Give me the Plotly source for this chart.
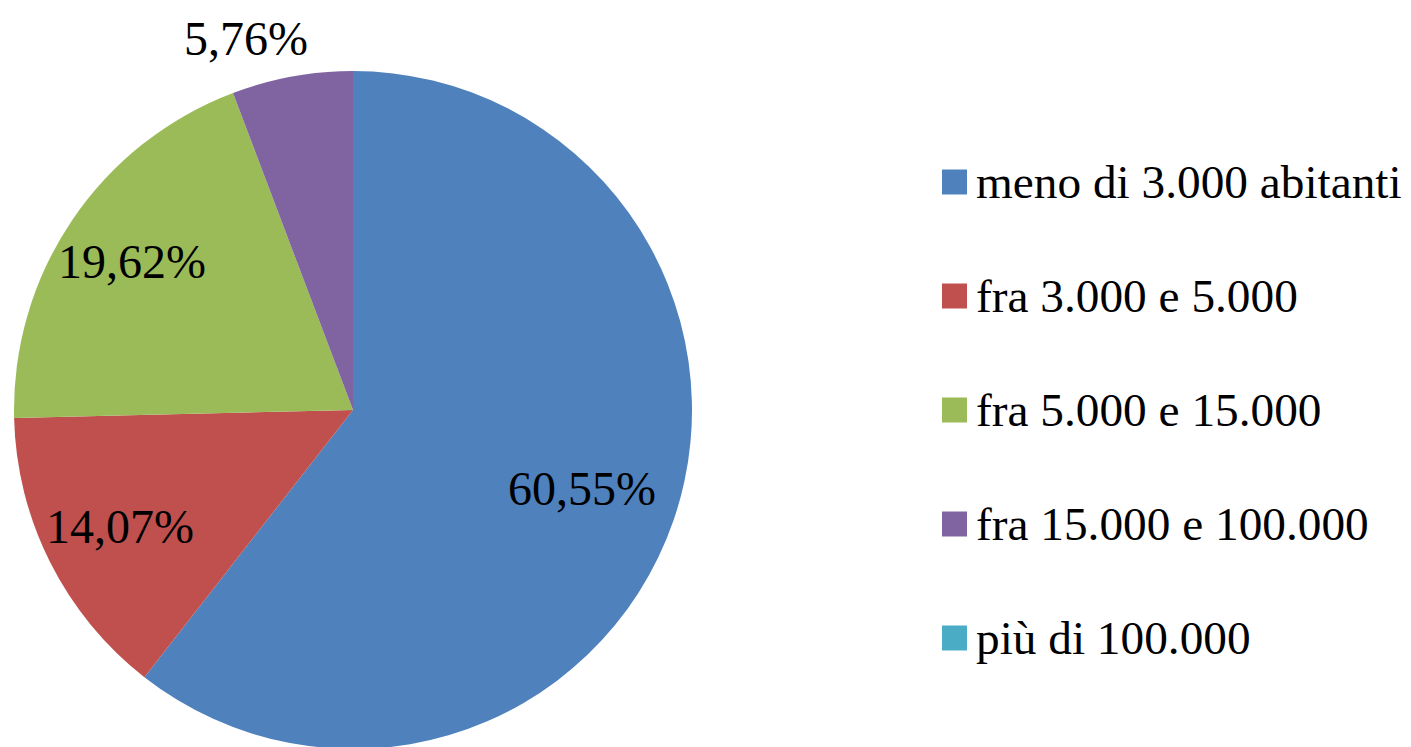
import math
import plotly.graph_objects as go

categories = ["meno di 3.000 abitanti", "fra 3.000 e 5.000", "fra 5.000 e 15.000",
              "fra 15.000 e 100.000", "più di 100.000"]
values = [60.55, 14.07, 19.62, 5.76, 0.0]
colors = ["#4F81BD", "#C0504D", "#9BBB59", "#8064A2", "#4BACC6"]

labels_txt = [("%.2f" % v).replace(".", ",") + "%" if v > 0 else "" for v in values]
# label placement style (fraction of radius along mid-angle); >1 means outside
label_radius = [0.713, 0.768, 0.787, 1.1, 0.0]

W, H = 1411, 747
OFF = 8  # page body margin offset
R = 339
ml, mt = 353 - OFF - R, 410 - OFF - R
mr = 0
mb = H - mt - 2 * R
pw, ph = W - ml - mr, H - mt - mb

FONT = "Liberation Serif"
FS = 48
FS_LEG = 47.3

fig = go.Figure()
fig.add_trace(go.Pie(
    labels=categories, values=values, textinfo="none",
    sort=False, direction="clockwise", rotation=0,
    marker=dict(colors=colors, line=dict(color="white", width=0)),
    domain=dict(x=[0, 2 * R / pw], y=[0, 1]),
    showlegend=False, hoverinfo="label+percent",
))

def px2x(px):
    # px in screen pixels
    return (px - OFF - ml) / pw

def py2y(py):
    return 1 - (py - OFF - mt) / ph

shapes, annos = [], []

# data labels placed along each slice's mid-angle
cx, cy = 353, 410
total = sum(values)
cum = 0.0
for v, t, rf in zip(values, labels_txt, label_radius):
    mid = (cum + v / 2) / total * 2 * math.pi
    cum += v
    if not t:
        continue
    dx, dy = math.sin(mid), -math.cos(mid)
    r = R * rf
    extra = dict(xshift=-40, yshift=5) if rf > 1 else {}
    annos.append(dict(xref="paper", yref="paper", x=px2x(cx + dx * r), y=py2y(cy + dy * r),
                      xanchor="center", yanchor="middle", text=t, showarrow=False,
                      font=dict(family=FONT, size=FS, color="black"), **extra))

for i, (cat, col) in enumerate(zip(categories, colors)):
    ly = 182 + i * 114
    shapes.append(dict(type="rect", xref="paper", yref="paper",
                       x0=px2x(942), x1=px2x(967), y0=py2y(ly + 12.5), y1=py2y(ly - 12.5),
                       fillcolor=col, line=dict(width=0)))
    annos.append(dict(xref="paper", yref="paper", x=px2x(974), y=py2y(ly),
                      xanchor="left", yanchor="middle", text=cat, showarrow=False,
                      font=dict(family=FONT, size=FS_LEG, color="black")))

fig.update_layout(
    width=W, height=H, margin=dict(l=ml, r=mr, t=mt, b=mb),
    paper_bgcolor="white", plot_bgcolor="white",
    shapes=shapes, annotations=annos,
)
fig.write_html("out.html")
